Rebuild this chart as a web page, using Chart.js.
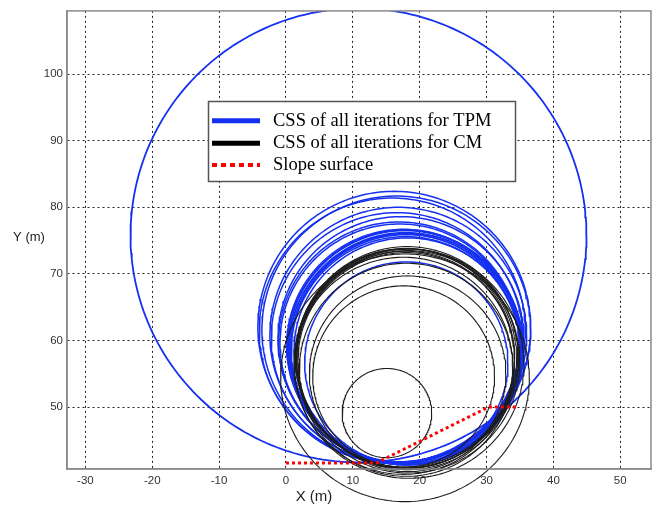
<!DOCTYPE html>
<html>
<head>
<meta charset="utf-8">
<script src="https://cdn.jsdelivr.net/npm/chart.js@4/dist/chart.umd.min.js"></script>
<style>
    html, body { margin: 0; padding: 0; background: #fff; }
    #wrap { position: relative; width: 654px; height: 509px; }
</style>
</head>
<body>
<div id="wrap"><canvas id="cssChart"></canvas></div>
<script>
// Critical slip surfaces: circle centre x, centre y, radius (m)
const tpmCx = [10.85, 16.2, 16.5, 15.9, 16.8, 17.2, 16.9, 17.6, 17.8, 17.9, 17.7, 18.0, 17.9, 18.1, 17.8, 18.2, 18.0, 16.6, 17.0];
const tpmCy = [75.8, 62.0, 61.6, 61.5, 60.8, 60.2, 59.8, 59.2, 59.0, 58.8, 58.7, 58.6, 58.5, 58.7, 59.0, 58.4, 56.6, 60.4, 59.6];
const tpmR  = [34.1, 20.4, 20.1, 19.9, 19.2, 18.4, 18.0, 17.5, 17.5, 17.4, 17.3, 17.3, 17.1, 17.4, 17.6, 17.0, 15.2, 18.8, 17.9];

const cmCx = [18.0, 18.1, 17.9, 18.2, 17.8, 18.0, 18.3, 17.6, 18.0, 18.2, 17.6, 17.8, 15.1, 18.4];
const cmCy = [57.3, 57.5, 57.1, 57.2, 57.4, 57.0, 56.8, 56.2, 55.6, 55.0, 54.6, 54.4, 49.1, 56.5];
const cmR  = [16.5, 16.6, 16.3, 16.6, 16.4, 16.2, 16.7, 16.3, 16.0, 14.7, 13.6, 18.6, 6.7, 17.2];

// Slope surface profile
const slopeX = [0, 13.5, 30.3, 34.5];
const slopeY = [41.6, 41.6, 50, 50];

// Axis ticks
const xTicks = [-30, -20, -10, 0, 10, 20, 30, 40, 50];
const yTicks = [50, 60, 70, 80, 90, 100];

const legendLabels = ['CSS of all iterations for TPM', 'CSS of all iterations for CM', 'Slope surface'];

document.addEventListener('DOMContentLoaded', function () {
    // outline of a circle as a closed list of points
    function circlePoints(cx, cy, r) {
        const pts = [];
        for (let i = 0; i <= 240; i++) {
            const t = (i / 240) * 2 * Math.PI;
            pts.push({ x: cx + r * Math.cos(t), y: cy + r * Math.sin(t) });
        }
        return pts;
    }

    const datasets = [];

    // slope first so it is drawn on top
    datasets.push({
        data: slopeX.map((x, i) => ({ x: x, y: slopeY[i] })),
        borderColor: '#ff0000',
        borderWidth: 3,
        borderDash: [3, 3],
        pointRadius: 0
    });

    cmCx.forEach((cx, i) => {
        datasets.push({
            data: circlePoints(cx, cmCy[i], cmR[i]),
            borderColor: '#1c1c1c',
            borderWidth: 1.1,
            pointRadius: 0,
            clip: false
        });
    });

    tpmCx.forEach((cx, i) => {
        datasets.push({
            data: circlePoints(cx, tpmCy[i], tpmR[i]),
            borderColor: '#1530f0',
            borderWidth: i === 0 ? 1.8 : 1.5,
            pointRadius: 0
        });
    });

    // box, axis titles and legend
    const decorations = {
        id: 'decorations',
        afterDraw(chart) {
            const ctx = chart.ctx;
            const a = chart.chartArea;
            ctx.save();
            ctx.strokeStyle = '#8a8a8a';
            ctx.lineWidth = 1.5;
            ctx.strokeRect(a.left, a.top, a.right - a.left, a.bottom - a.top);

            ctx.fillStyle = '#222';
            ctx.font = '15px "Liberation Sans", Arial, sans-serif';
            ctx.textAlign = 'center';
            ctx.textBaseline = 'middle';
            ctx.fillText('X (m)', 314, 497);
            ctx.font = '13px "Liberation Sans", Arial, sans-serif';
            ctx.fillText('Y (m)', 29, 237);

            // legend
            const lx = 208.5, ly = 101.5, lw = 307, lh = 80;
            ctx.fillStyle = '#fff';
            ctx.fillRect(lx, ly, lw, lh);
            ctx.strokeStyle = '#555';
            ctx.lineWidth = 1.5;
            ctx.strokeRect(lx, ly, lw, lh);

            const rows = [120.7, 143.3, 165];
            const colors = ['#1530f0', '#000000', '#ff0000'];
            rows.forEach((y, i) => {
                ctx.beginPath();
                ctx.strokeStyle = colors[i];
                ctx.lineWidth = i === 2 ? 4 : 5;
                ctx.setLineDash(i === 2 ? [5, 4] : []);
                ctx.moveTo(212, y);
                ctx.lineTo(260, y);
                ctx.stroke();
                ctx.setLineDash([]);
                ctx.fillStyle = '#000';
                ctx.font = '18.5px "Liberation Serif", "Times New Roman", serif';
                ctx.textAlign = 'left';
                ctx.fillText(legendLabels[i], 273, y);
            });
            ctx.restore();
        }
    };

    const tickFont = { family: '"Liberation Sans", Arial, sans-serif', size: 11.5 };

    new Chart(document.getElementById('cssChart'), {
        type: 'line',
        data: { datasets: datasets },
        options: {
            responsive: true,
            maintainAspectRatio: false,
            animation: false,
            layout: { padding: { top: 9, right: 3, left: 0, bottom: 0 } },
            plugins: { legend: { display: false }, tooltip: { enabled: false } },
            elements: { line: { tension: 0 } },
            scales: {
                x: {
                    type: 'linear',
                    min: -32.75,
                    max: 54.6,
                    afterBuildTicks: (axis) => { axis.ticks = xTicks.map(v => ({ value: v })); },
                    afterFit: (scale) => { scale.height = 40; },
                    ticks: { color: '#333', font: tickFont, padding: 5, maxRotation: 0 },
                    grid: { color: '#222', lineWidth: 1, drawTicks: false },
                    border: { color: '#8a8a8a', width: 1.5, dash: [2, 3] }
                },
                y: {
                    type: 'linear',
                    min: 40.7,
                    max: 109.5,
                    afterBuildTicks: (axis) => { axis.ticks = yTicks.map(v => ({ value: v })); },
                    afterFit: (scale) => { scale.width = 67; },
                    ticks: { color: '#333', font: tickFont, padding: 4 },
                    grid: { color: '#222', lineWidth: 1, drawTicks: false },
                    border: { color: '#8a8a8a', width: 1.5, dash: [2, 3] }
                }
            }
        },
        plugins: [decorations]
    });
});
</script>
</body>
</html>
